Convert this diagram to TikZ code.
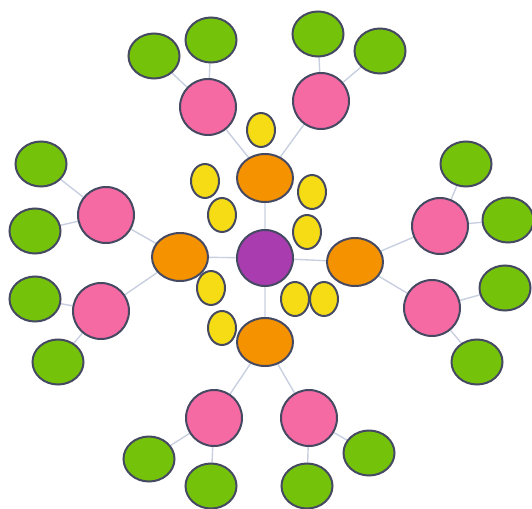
\documentclass[tikz,border=0pt]{standalone}
\usetikzlibrary{shapes.geometric,backgrounds}
\definecolor{cgreen}{HTML}{74C20A}
\definecolor{cpink}{HTML}{F56AA3}
\definecolor{corange}{HTML}{F59200}
\definecolor{cyellow}{HTML}{F5DC14}
\definecolor{cpurple}{HTML}{A93DB0}
\definecolor{cborder}{HTML}{454962}
\definecolor{cline}{HTML}{C8CFE0}
\begin{document}
\begin{tikzpicture}[x=1pt,y=-1pt,
  blob/.style={ellipse,draw=cborder,line width=2pt,inner sep=0pt},
  greenn/.style={blob,fill=cgreen,minimum width=51pt,minimum height=45pt},
  pinkn/.style={blob,fill=cpink,minimum width=56pt,minimum height=56pt},
  orangen/.style={blob,fill=corange,minimum width=56pt,minimum height=48pt},
  yellown/.style={blob,fill=cyellow,minimum width=28pt,minimum height=34pt},
  purplen/.style={blob,fill=cpurple,minimum width=56pt,minimum height=56pt},
  link/.style={draw=cline,line width=1.4pt}]
\useasboundingbox (0,0) rectangle (532,508);
% center
\node[purplen] (c) at (265,258) {};
% oranges
\node[orangen] (ot) at (265,178) {};
\node[orangen] (ol) at (180,257) {};
\node[orangen] (or) at (355,262) {};
\node[orangen] (ob) at (265,342) {};
% yellows
\node[yellown] (y1) at (261,130) {};
\node[yellown] (y2) at (205,181) {};
\node[yellown] (y3) at (222,215) {};
\node[yellown] (y4) at (312,192) {};
\node[yellown] (y5) at (307,232) {};
\node[yellown] (y6) at (211,288) {};
\node[yellown] (y7) at (222,328) {};
\node[yellown] (y8) at (295,299) {};
\node[yellown] (y9) at (324,299) {};
% pinks
\node[pinkn] (ptl) at (208,107) {};
\node[pinkn] (ptr) at (321,101) {};
\node[pinkn] (plu) at (106,215) {};
\node[pinkn] (pll) at (101,311) {};
\node[pinkn] (pru) at (440,226) {};
\node[pinkn] (prl) at (432,308) {};
\node[pinkn] (pbl) at (214,418) {};
\node[pinkn] (pbr) at (309,418) {};
% greens
\node[greenn] (g1) at (154,56) {};
\node[greenn] (g2) at (211,40) {};
\node[greenn] (g3) at (318,34) {};
\node[greenn] (g4) at (380,51) {};
\node[greenn] (g5) at (41,164) {};
\node[greenn] (g6) at (35,231) {};
\node[greenn] (g7) at (35,299) {};
\node[greenn] (g8) at (58,362) {};
\node[greenn] (g9) at (466,164) {};
\node[greenn] (g10) at (508,220) {};
\node[greenn] (g11) at (505,288) {};
\node[greenn] (g12) at (477,362) {};
\node[greenn] (g13) at (149,459) {};
\node[greenn] (g14) at (211,486) {};
\node[greenn] (g15) at (369,453) {};
\node[greenn] (g16) at (307,486) {};
\begin{scope}[on background layer]
\path[link] (c) -- (ot) (c) -- (ol) (c) -- (or) (c) -- (ob);
\path[link] (ot) -- (ptl) (ot) -- (ptr) (ol) -- (plu) (ol) -- (pll)
  (or) -- (pru) (or) -- (prl) (ob) -- (pbl) (ob) -- (pbr);
\path[link] (ptl) -- (g1) (ptl) -- (g2) (ptr) -- (g3) (ptr) -- (g4)
  (plu) -- (g5) (plu) -- (g6) (pll) -- (g7) (pll) -- (g8)
  (pru) -- (g9) (pru) -- (g10) (prl) -- (g11) (prl) -- (g12)
  (pbl) -- (g13) (pbl) -- (g14) (pbr) -- (g15) (pbr) -- (g16);
\end{scope}
\end{tikzpicture}
\end{document}
